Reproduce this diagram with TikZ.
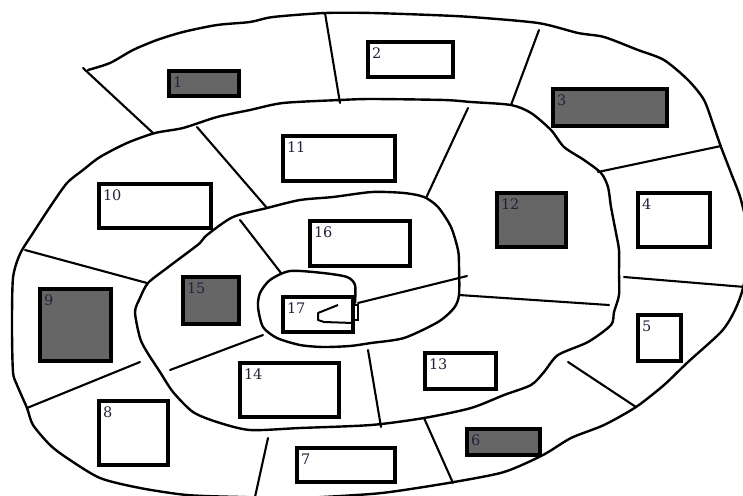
\documentclass[tikz,border=0pt]{standalone}
\usepackage{fontspec}
\newfontfamily\labfont{DejaVu Serif}
\usetikzlibrary{calc}
\definecolor{boxgray}{RGB}{102,102,102}
\definecolor{labcol}{RGB}{35,35,60}
\tikzset{
  spiral/.style={line width=2.4pt, line join=round, line cap=round},
  divider/.style={line width=2.1pt, line cap=round},
  lightbox/.style={draw=black, line width=4pt, fill=white, inner sep=0pt, outer sep=0pt, anchor=north west},
  darkbox/.style={lightbox, fill=boxgray},
  lab/.style={anchor=base west, inner sep=0pt, outer sep=0pt, text=labcol, font=\labfont\fontsize{14.5}{14.5}\selectfont}
}
\newcommand\parcel[6]{%
  \node[#1, minimum width={#5-#3-4}, minimum height={#6-#4-4}] (b#2) at (#3+2,#4+2) {};
  \node[lab] (l#2) at (#3+6,#4+18) {#2};
}
\begin{document}
\begin{tikzpicture}[x=1pt,y=-1pt]
\useasboundingbox (0,0) rectangle (743,495);
\clip (0,0) rectangle (743,495);
\fill[white] (0,0) rectangle (743,495);

% the spiral boundary
\draw[spiral] plot[smooth, tension=0.45] coordinates {
 (88,70) (110,63) (133,50) (157,40) (183,32) (217,25) (250,22) (273,17) (325,13)
 (372,13) (431,15) (471,17) (538,23) (578,33) (604,37) (638,50) (664,60) (688,80)
 (704,100) (714,127) (721,147) (731,173) (741,200) (750,245) (743,288) (734,312)
 (721,332) (688,362) (664,385) (636,407) (604,425) (571,438) (543,455) (504,472)
 (454,482) (404,490) (371,494) (300,498) (240,497) (187,495) (140,488) (100,478)
 (67,458) (50,445) (33,425) (27,408) (17,385) (13,372) (12,328) (13,278) (20,254)
 (33,233) (50,207) (67,183) (83,170) (100,157) (127,143) (155,133) (183,128)
 (217,117) (250,110) (283,103) (340,100) (372,99) (444,100) (471,102) (511,105)
 (531,113) (551,130) (564,147) (584,160) (601,173) (608,187) (611,207) (616,233)
 (619,250) (619,272) (619,295) (614,312) (611,325) (588,342) (558,355) (544,372)
 (531,385) (504,395) (471,408) (424,418) (371,425) (300,428) (250,430) (217,422)
 (193,412) (173,392) (160,372) (147,352) (140,338) (135,312) (140,298) (148,283)
 (167,268) (187,253) (200,243) (207,235) (233,217) (267,208) (300,200) (333,197)
 (372,192) (404,193) (424,197) (438,207) (451,227) (458,250) (459,265) (459,295)
 (454,308) (438,322) (404,338) (371,343) (350,346) (323,347) (300,345) (277,338)
 (263,327) (258,307) (260,293) (270,280) (290,271) (323,273) (347,277) (355,285)
 (355,303)};
\draw[line width=1.6pt] (354.5,305) rectangle (358,320);

% dividing lines
\draw[divider] (83,68) -- (153,133);
\draw[divider] (325,13) -- (340,103);
\draw[divider] (539,30) -- (511,105);
\draw[divider] (598,172) -- (721,146);
\draw[divider] (624,277) -- (745,287);
\draw[divider] (568,362) -- (636,407);
\draw[divider] (424,418) -- (453,483);
\draw[divider] (268,438) -- (255,497);
\draw[divider] (27,408) -- (140,362);
\draw[divider] (25,250) -- (147,283);
\draw[divider] (197,127) -- (267,208);
\draw[divider] (468,108) -- (426,198);
\draw[divider] (459,295) -- (609,305);
\draw[divider] (368,350) -- (381,427);
\draw[divider] (170,370) -- (263,335);
\draw[divider] (240,220) -- (281,273);
\draw[divider] (358,303) -- (467,276);

% plots
\parcel{darkbox}{1}{167}{69}{241}{98}
\parcel{lightbox}{2}{366}{40}{455}{79}
\parcel{darkbox}{3}{551}{87}{669}{128}
\parcel{lightbox}{4}{636}{191}{712}{249}
\parcel{lightbox}{5}{636}{313}{683}{363}
\parcel{darkbox}{6}{465}{427}{542}{457}
\parcel{lightbox}{7}{295}{446}{397}{484}
\parcel{lightbox}{8}{97}{399}{170}{467}
\parcel{darkbox}{9}{38}{287}{113}{363}
\parcel{lightbox}{10}{97}{182}{213}{230}
\parcel{lightbox}{11}{281}{134}{397}{183}
\parcel{darkbox}{12}{495}{191}{568}{249}
\parcel{lightbox}{13}{423}{351}{498}{391}
\parcel{lightbox}{14}{238}{361}{341}{419}
\parcel{darkbox}{15}{181}{275}{241}{326}
\parcel{lightbox}{16}{308}{219}{412}{268}
\parcel{lightbox}{17}{281}{295}{355}{334}

% mark inside plot 17
\draw[line width=2pt, line join=round] (338,305) -- (318,313) -- (318,320) -- (324,322) -- (353,323);
\end{tikzpicture}
\end{document}
